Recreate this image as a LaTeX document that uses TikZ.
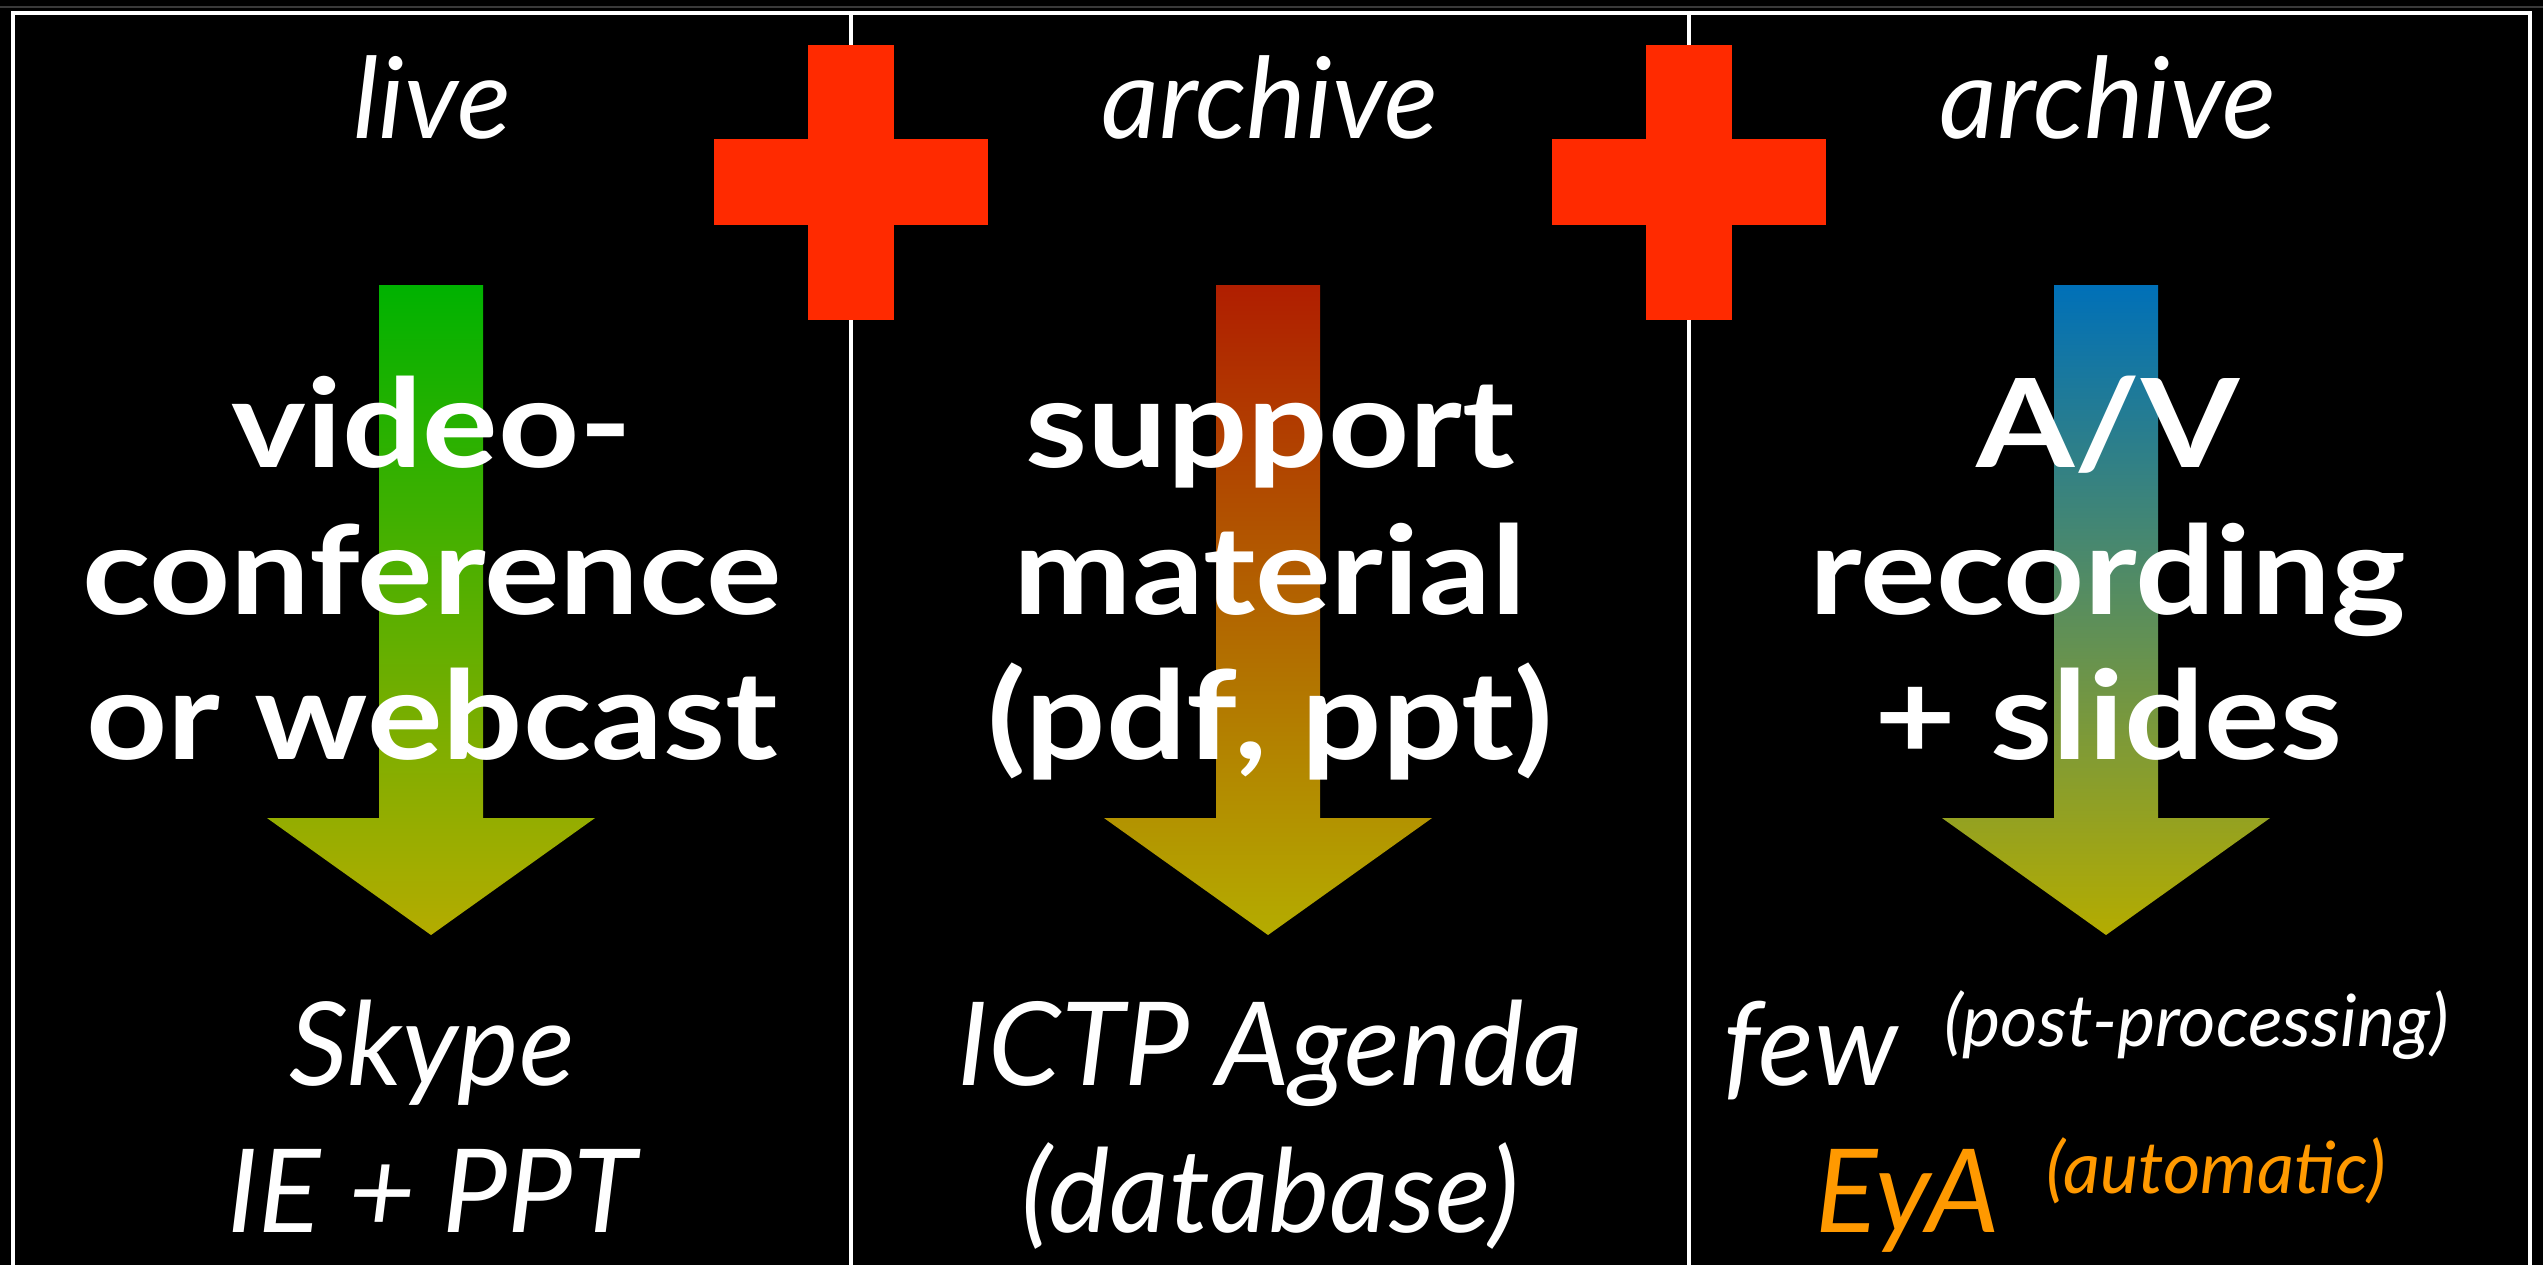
\documentclass[tikz,border=0pt]{standalone}
\usepackage{fontspec}
\setmainfont{Lato}[BoldFeatures={FakeStretch=1.15}]
\usepackage{xcolor}
\usepackage{tikz}
\tikzset{rounded corners=0}
\definecolor{crossred}{RGB}{255,42,0}
\definecolor{evoorange}{RGB}{255,153,0}
\definecolor{greentop}{RGB}{0,178,0}
\definecolor{redtop}{RGB}{176,30,0}
\definecolor{bluetop}{RGB}{0,112,184}
\definecolor{olivebot}{RGB}{180,172,0}
% arrow centred at x=#1, shaded from #2 to #3
\newcommand{\colarrow}[3]{%
  \shade[top color=#2,bottom color=#3] (#1-52,285)--(#1+52,285)--(#1+52,818)
  --(#1+164,818)--(#1,935)--(#1-164,818)--(#1-52,818)--cycle;}
% red plus sign centred on a divider at x=#1
\newcommand{\redplus}[1]{%
  \fill[crossred] (#1-137,139) rectangle (#1+137,225);
  \fill[crossred] (#1-43,45) rectangle (#1+43,320);}
% small raised remark
\newcommand{\remark}[1]{\hspace{.4em}\raisebox{11pt}{\fontsize{20.5}{20.5}\selectfont#1}}

\begin{document}
\begin{tikzpicture}[x=0.01cm,y=-0.01cm,
	head/.style={anchor=base,inner sep=0,text=white,font=\fontsize{32}{32}\selectfont\itshape},
	big/.style={anchor=base,inner sep=0,text=white,font=\fontsize{35}{35}\selectfont\bfseries},
	tool/.style={anchor=base,inner sep=0,text=white,font=\fontsize{33}{33}\selectfont\itshape}]
	\fill[black] (0,0) rectangle (2543,1265);
	\useasboundingbox (0,0) rectangle (2543,1265);
	\draw[gray!45!black,line width=.6pt] (0,7)--(2543,7);
	% frame and dividers
	\draw[white,line width=1.1pt] (13,1300)--(13,13)--(2530,13)--(2530,1300);
	\draw[white,line width=1.1pt] (851,13)--(851,1300);
	\draw[white,line width=1.1pt] (1689,13)--(1689,1300);
	\redplus{851}
	\redplus{1689}
	% arrows
	\colarrow{431}{greentop}{olivebot}
	\colarrow{1268}{redtop}{olivebot}
	\colarrow{2106}{bluetop}{olivebot}
	% headings
	\node[head] (live) at (432,138) {live};
	\node[head] (arch1) at (1270,138) {archive};
	\node[head] (arch2) at (2108,138) {archive};
	% column 1
	\node[big] (video) at (432,467) {video-};
	\node[big] (conf) at (432,614) {conference};
	\node[big] (webcast) at (432,759) {or webcast};
	\node[tool] (skype) at (432,1085) {Skype};
	\node[tool] (ieppt) at (432,1232) {IE + PPT};
	% column 2
	\node[big] (support) at (1270,467) {support};
	\node[big] (material) at (1270,614) {material};
	\node[big] (pdfppt) at (1270,759) {(pdf, ppt)};
	\node[tool] (agenda) at (1270,1085) {ICTP Agenda};
	\node[tool] (dbase) at (1270,1232) {(database)};
	% column 3
	\node[big] (av) at (2108,467) {A/V};
	\node[big] (record) at (2108,614) {recording};
	\node[big] (slides) at (2108,759) {+ slides};
	\node[tool] (few) at (2086,1085) {few\remark{(post-processing)}};
	\node[tool,text=evoorange] (eya) at (2101,1232) {EyA\remark{(automatic)}};
\end{tikzpicture}
\end{document}
